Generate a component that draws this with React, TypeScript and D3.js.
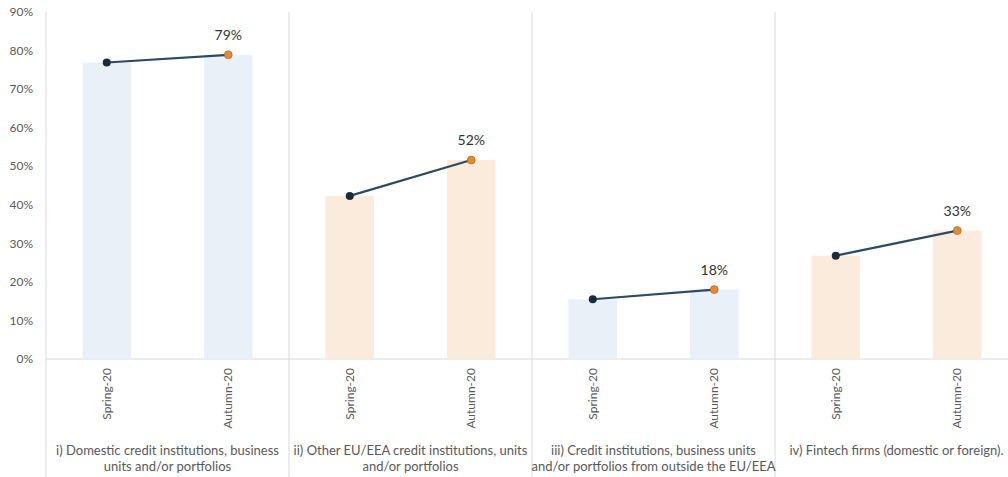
import React from "react";
import * as d3 from "d3";

const groups = [
  ["i) Domestic credit institutions, business", "units and/or portfolios"],
  ["ii) Other EU/EEA credit institutions, units", "and/or portfolios"],
  ["iii) Credit institutions, business units", "and/or portfolios from outside the EU/EEA"],
  ["iv) Fintech firms (domestic or foreign)."],
];
const periods = ["Spring-20", "Autumn-20"];
const springValues = [76.9, 42.3, 15.5, 26.8];
const autumnValues = [78.9, 51.6, 18.0, 33.3];
const autumnLabels = ["79%", "52%", "18%", "33%"];
const yTicks = [0, 10, 20, 30, 40, 50, 60, 70, 80, 90];
const barFills = ["#E9F0F7", "#FBEBDC", "#E9F0F7", "#FBEBDC"];

const W = 1008;
const H = 477;
const left = 46;
const top = 12;
const bottom = 359;
const groupW = 243;

export default function App() {
  const y = d3.scaleLinear().domain([0, 90]).range([bottom, top]);
  const gx = d3.scaleBand<number>().domain(groups.map((_, i) => i)).range([left, left + groupW * 4]);
  const px = d3.scaleBand<string>().domain(periods).range([0, groupW]).paddingInner(0.6).paddingOuter(0.3);
  const font = "Lato, 'Open Sans', sans-serif";
  const line = d3.line<[number, number]>().x(d => d[0]).y(d => d[1]);
  return (
    <svg width={W} height={H} style={{ position: "absolute", left: 0, top: 0, background: "#fff" }}>
      {yTicks.map(t => (
        <text key={t} x={33} y={y(t)} dy="0.35em" textAnchor="end" fontSize={12} fill="#595959" fontFamily={font}>{t}%</text>
      ))}
      <line x1={left} x2={left} y1={top} y2={H} stroke="#d9d9d9" />
      {groups.map((_, i) => (
        <line key={"d" + i} x1={gx(i)! + groupW} x2={gx(i)! + groupW} y1={top} y2={H} stroke="#d9d9d9" />
      ))}
      <line x1={left} x2={W} y1={bottom} y2={bottom} stroke="#d9d9d9" />
      {groups.map((g, i) => {
        const gx0 = gx(i)!;
        const vals = [springValues[i], autumnValues[i]];
        const pts: [number, number][] = periods.map((p, j) => [gx0 + px(p)! + px.bandwidth() / 2, y(vals[j])]);
        return (
          <g key={"g" + i}>
            {periods.map((p, j) => (
              <rect key={p} x={gx0 + px(p)!} y={y(vals[j])} width={px.bandwidth()} height={bottom - y(vals[j])} fill={barFills[i]} />
            ))}
            <path d={line(pts)!} stroke="#2B4A64" strokeWidth={2.2} fill="none" />
            <circle cx={pts[0][0]} cy={pts[0][1]} r={4} fill="#1B2B3C" />
            <circle cx={pts[1][0]} cy={pts[1][1]} r={4} fill="#E8892C" stroke="#8a5a2a" strokeWidth={0.5} />
            <text x={pts[1][0]} y={pts[1][1] - 15} textAnchor="middle" fontSize={14} fill="#333" fontFamily={font}>{autumnLabels[i]}</text>
            {periods.map((p) => {
              const cx = gx0 + px(p)! + px.bandwidth() / 2;
              return (
                <text key={"l" + p} transform={`translate(${cx},368) rotate(-90)`} textAnchor="end" dy="0.35em" fontSize={12} fill="#595959" fontFamily={font}>{p}</text>
              );
            })}
            {g.map((ln, k) => (
              <text key={"t" + k} x={gx0 + groupW / 2} y={455 + k * 16} textAnchor="middle" fontSize={13} fill="#595959" fontFamily={font}>{ln}</text>
            ))}
          </g>
        );
      })}
    </svg>
  );
}
